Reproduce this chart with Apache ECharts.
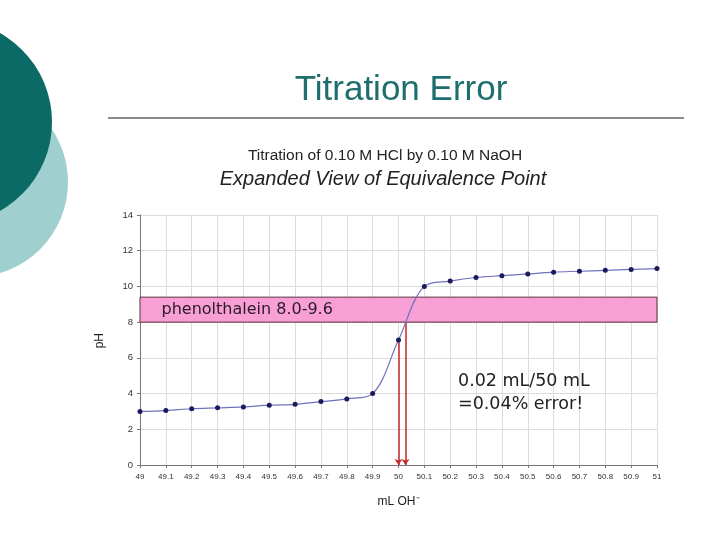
<!DOCTYPE html>
<html>
<head>
<meta charset="utf-8">
<script src="https://cdn.jsdelivr.net/npm/echarts@6/dist/echarts.min.js"></script>
<style>
  html, body { margin: 0; padding: 0; background: #fff; }
  #main { width: 720px; height: 539px; }
</style>
</head>
<body>
<div id="main"></div>
<script>
// data
var volumes = [49.0, 49.1, 49.2, 49.3, 49.4, 49.5, 49.6, 49.7, 49.8, 49.9, 50.0,
               50.1, 50.2, 50.3, 50.4, 50.5, 50.6, 50.7, 50.8, 50.9, 51.0];
var phValues = [3.0, 3.05, 3.15, 3.2, 3.25, 3.35, 3.4, 3.55, 3.7, 4.0, 7.0,
                10.0, 10.3, 10.5, 10.6, 10.7, 10.8, 10.85, 10.9, 10.95, 11.0];
var indicatorBand = [8.0, 9.4];          // pink band, pH
var indicatorLabel = 'phenolthalein 8.0-9.6';
var arrowDrops = [[50.0, 7.0], [50.027, 8.0]];   // red arrows: [mL, pH at top]

var chart = echarts.init(document.getElementById('main'));

var points = volumes.map(function (v, i) { return [v, phValues[i]]; });

var option = {
    animation: false,
    title: [{
        text: 'Titration Error',
        left: 396, top: 68, textAlign: 'center',
        textStyle: { fontFamily: 'Liberation Sans Narrow, Liberation Sans', fontSize: 35, fontWeight: 'normal', color: '#1d6e6c' }
    }, {
        text: 'Titration of 0.10 M HCl by 0.10 M NaOH',
        left: 380, top: 143, textAlign: 'center',
        textStyle: { fontFamily: 'Liberation Sans', fontSize: 15.5, fontWeight: 'normal', color: '#222' }
    }, {
        text: 'Expanded View of Equivalence Point',
        left: 378, top: 164, textAlign: 'center',
        textStyle: { fontFamily: 'Liberation Sans', fontSize: 20, fontStyle: 'italic', fontWeight: 'normal', color: '#222' }
    }],
    graphic: [
        { type: 'circle', shape: { cx: -27, cy: 182, r: 95 }, style: { fill: '#9fcfce' }, z: 0 },
        { type: 'circle', shape: { cx: -50, cy: 122, r: 102 }, style: { fill: '#0b6966' }, z: 1 },
        { type: 'line', shape: { x1: 108, y1: 118, x2: 684, y2: 118 }, style: { stroke: '#8a8a8a', lineWidth: 2 } },
        { type: 'text', left: 458, top: 370, z: 100, style: {
            text: '0.02 mL/50 mL\n=0.04% error!', fill: '#222',
            font: '17.5px "DejaVu Sans"', lineHeight: 23 } },
        { type: 'text', left: 94, top: 333, rotation: Math.PI / 2, z: 100, style: {
            text: 'pH', fill: '#222', font: '12px "Liberation Sans"', textAlign: 'center' } }
    ],
    grid: { left: 140, right: 63, top: 215, bottom: 74 },
    xAxis: {
        type: 'value', min: 49, max: 51, interval: 0.1,
        name: 'mL OH⁻', nameLocation: 'middle', nameGap: 31,
        nameTextStyle: { fontFamily: 'Liberation Sans', fontSize: 12, color: '#222' },
        axisLine: { lineStyle: { color: '#777' } },
        axisTick: { length: 3, lineStyle: { color: '#777' } },
        axisLabel: {
            fontFamily: 'Liberation Sans', fontSize: 8, color: '#333', margin: 8,
            formatter: function (v) { return String(Number(v.toFixed(1))); }
        },
        splitLine: { show: true, lineStyle: { color: '#dcdcdc' } }
    },
    yAxis: {
        type: 'value', min: 0, max: 14, interval: 2,
        axisLine: { show: true, lineStyle: { color: '#777' } },
        axisTick: { show: true, length: 3, lineStyle: { color: '#777' } },
        axisLabel: { fontFamily: 'Liberation Sans', fontSize: 9.5, color: '#333', margin: 7 },
        splitLine: { lineStyle: { color: '#dcdcdc' } }
    },
    series: [{
        type: 'line',
        data: points,
        smooth: 0.35,
        symbol: 'circle', symbolSize: 5,
        itemStyle: { color: '#1a1a5c' },
        lineStyle: { color: '#7070c0', width: 1.2 },
        z: 5,
        markArea: {
            silent: true,
            itemStyle: { color: '#f8a0d6', borderColor: '#5a3040', borderWidth: 1 },
            label: {
                show: true, position: 'insideLeft', distance: 22,
                fontFamily: 'DejaVu Sans', fontSize: 16, color: '#2a1a2a'
            },
            data: [[
                { name: indicatorLabel, coord: [volumes[0], indicatorBand[0]] },
                { coord: [volumes[volumes.length - 1], indicatorBand[1]] }
            ]]
        }
    }, {
        type: 'line',
        data: [],
        markLine: {
            silent: true,
            symbolSize: 6,
            lineStyle: { color: '#c0282a', width: 1.5, type: 'solid' },
            label: { show: false },
            data: arrowDrops.map(function (d) {
                return [{ coord: [d[0], d[1]], symbol: 'none' }, { coord: [d[0], 0], symbol: 'arrow' }];
            })
        },
        z: 6
    }]
};

chart.setOption(option);
</script>
</body>
</html>
